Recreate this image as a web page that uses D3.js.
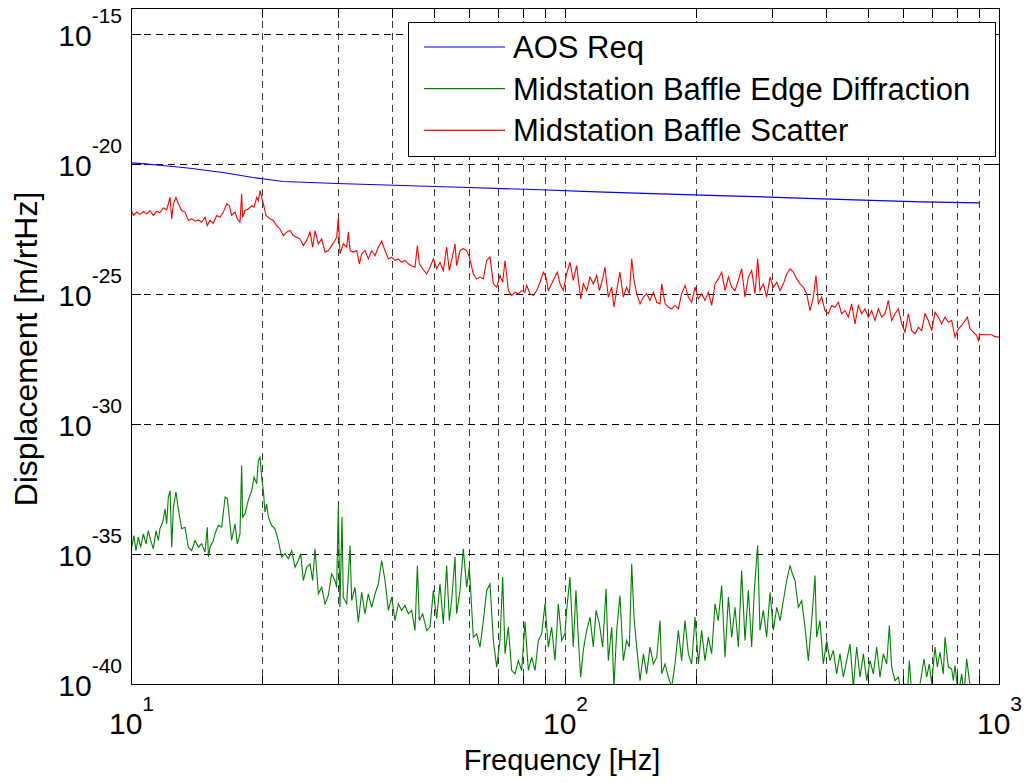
<!DOCTYPE html>
<html>
<head>
<meta charset="utf-8">
<script src="https://cdn.jsdelivr.net/npm/d3@7"></script>
<style>
  html, body { margin: 0; padding: 0; background: #fff; }
  svg { display: block; font-family: "Liberation Sans", Arial, Helvetica, sans-serif; }
</style>
</head>
<body>
<svg id="chart" width="1026" height="783"></svg>
<script>
// Displacement noise spectra, log10 of amplitude in m/rtHz versus frequency in Hz.

// AOS requirement curve
const aosFreq = [10, 10.74, 11.76, 12.80, 13.79, 14.93, 16.25, 17.59, 19.05, 20.63, 22.34,
  29.75, 42.02, 59.62, 84.19, 118.2, 165.1, 235.5, 330.8, 464.6, 659.3, 900];
const aosLog = [-19.935, -19.973, -20.038, -20.096, -20.154, -20.231, -20.308, -20.404, -20.5, -20.577, -20.654,
  -20.731, -20.808, -20.885, -20.962, -21.05, -21.127, -21.204, -21.281, -21.358, -21.435, -21.473];

// Midstation baffle scatter
const scatterFreq = [
  10.0, 10.10, 10.28, 10.46, 10.65, 10.84, 11.03, 11.23, 11.43, 11.63,
  11.84, 12.05, 12.16, 12.27, 12.38, 12.49, 12.66, 12.82, 13.05, 13.28,
  13.52, 13.76, 14.01, 14.26, 14.51, 14.77, 14.95, 15.17, 15.44, 15.71,
  15.99, 16.28, 16.57, 16.80, 17.01, 17.32, 17.53, 17.78, 17.94, 18.03,
  18.26, 18.58, 18.92, 19.16, 19.43, 19.60, 19.78, 19.95, 20.13, 20.41,
  20.85, 21.22, 21.60, 21.98, 22.38, 22.78, 23.19, 23.60, 24.02, 24.45,
  24.88, 25.33, 25.78, 26.15, 26.48, 26.95, 27.43, 27.92, 28.41, 28.92,
  29.43, 29.70, 29.96, 30.22, 30.76, 31.32, 31.60, 31.88, 32.45, 33.03,
  33.50, 33.91, 34.51, 35.13, 35.76, 36.40, 37.05, 37.71, 38.38, 39.07,
  39.77, 40.47, 41.20, 41.93, 42.68, 43.45, 44.21, 45.00, 45.57, 46.05,
  46.88, 47.88, 48.74, 49.61, 50.49, 51.38, 52.30, 53.23, 53.99, 54.66,
  55.64, 56.13, 57.13, 58.15, 59.19, 60.04, 61.32, 62.42, 63.53, 64.67,
  65.82, 66.99, 68.19, 69.41, 70.65, 71.66, 72.55, 73.85, 75.15, 76.49,
  77.86, 79.25, 80.67, 81.38, 82.84, 84.32, 85.83, 87.35, 88.91, 90.16,
  91.28, 92.92, 94.58, 95.76, 97.12, 98.85, 100.6, 102.4, 104.2, 106.1,
  108.4, 109.9, 111.9, 113.9, 115.9, 118.0, 119.7, 121.8, 123.3, 125.5,
  127.8, 129.3, 131.2, 133.5, 135.9, 138.3, 140.3, 142.1, 143.8, 145.9,
  148.5, 151.2, 153.8, 156.6, 159.4, 162.3, 165.1, 166.6, 169.6, 172.6,
  175.6, 178.8, 182.0, 185.2, 188.5, 191.9, 195.3, 198.8, 202.4, 205.9,
  209.6, 213.4, 217.2, 221.1, 224.9, 229.0, 233.1, 237.3, 241.5, 245.8,
  250.2, 254.6, 259.2, 263.8, 268.5, 273.3, 277.2, 280.6, 285.7, 290.7,
  296.0, 301.3, 306.7, 312.2, 317.7, 323.4, 329.2, 335.0, 341.0, 347.0,
  353.2, 359.5, 365.9, 372.5, 377.7, 382.4, 389.3, 396.2, 403.3, 410.5,
  417.8, 425.3, 432.8, 440.6, 448.4, 456.4, 464.6, 472.8, 481.3, 489.9,
  498.6, 507.5, 516.6, 525.8, 535.2, 544.8, 554.4, 564.4, 574.4, 584.7,
  595.2, 605.7, 616.6, 627.6, 638.8, 650.2, 661.7, 673.6, 685.5, 697.8,
  710.3, 722.8, 735.8, 748.9, 762.3, 775.9, 789.6, 803.8, 818.1, 832.8,
  843.2, 855.1, 870.4, 886.0, 893.8, 900, 960, 976, 1000];
const scatterLog = [
  -21.77, -21.96, -21.83, -21.92, -21.81, -21.90, -21.77, -21.96, -21.80, -21.85,
  -21.67, -21.74, -21.51, -21.26, -22.09, -21.51, -21.26, -21.51, -21.77, -21.83,
  -22.15, -22.09, -22.18, -22.13, -22.22, -22.03, -22.35, -22.15, -22.26, -21.96,
  -22.03, -21.83, -21.51, -21.58, -21.96, -21.83, -22.09, -22.22, -21.13, -22.03,
  -21.77, -21.71, -21.58, -21.64, -21.26, -21.39, -21.00, -21.26, -21.51, -21.96,
  -22.09, -22.15, -22.35, -22.48, -22.73, -22.60, -22.54, -22.73, -22.80, -22.86,
  -23.12, -22.92, -22.60, -23.18, -22.54, -23.05, -22.86, -23.37, -23.31, -23.12,
  -22.92, -22.80, -22.03, -23.44, -23.05, -23.18, -22.60, -23.31, -23.37, -23.31,
  -23.82, -23.44, -23.31, -23.63, -23.31, -23.50, -23.18, -22.95, -23.31, -23.63,
  -23.56, -23.69, -23.63, -23.76, -23.69, -23.82, -23.89, -23.95, -23.12, -23.82,
  -24.01, -24.21, -23.95, -23.63, -24.01, -23.76, -24.08, -23.18, -24.08, -23.69,
  -23.05, -23.89, -23.31, -23.24, -23.31, -23.56, -24.21, -24.40, -24.33, -24.40,
  -23.69, -23.56, -24.59, -24.72, -24.27, -24.53, -23.69, -24.85, -25.04, -24.91,
  -24.97, -24.85, -24.91, -24.65, -24.97, -25.04, -24.85, -24.53, -24.14, -24.33,
  -24.85, -24.59, -24.33, -24.14, -24.59, -24.85, -24.21, -23.76, -24.46, -23.89,
  -25.17, -24.59, -24.85, -24.33, -24.59, -24.27, -24.85, -24.40, -23.95, -25.10,
  -24.72, -25.49, -24.85, -24.14, -25.10, -24.72, -24.97, -23.63, -24.46, -24.97,
  -25.36, -25.10, -24.97, -25.23, -24.91, -25.30, -25.36, -24.59, -25.36, -25.49,
  -25.55, -25.42, -25.55, -24.97, -24.65, -25.10, -25.30, -24.72, -25.17, -24.97,
  -25.23, -24.91, -25.42, -24.59, -24.40, -24.14, -24.85, -24.33, -24.72, -24.85,
  -24.46, -24.01, -25.10, -24.33, -24.08, -24.97, -23.63, -24.85, -24.59, -25.10,
  -24.33, -24.72, -24.53, -24.85, -24.59, -24.21, -24.01, -24.14, -24.40, -24.59,
  -24.72, -24.97, -25.62, -25.10, -24.27, -25.36, -25.10, -25.62, -25.74, -25.42,
  -25.49, -25.30, -25.74, -25.62, -25.87, -25.36, -26.13, -25.42, -25.74, -25.55,
  -25.87, -25.62, -26.00, -25.55, -25.87, -25.74, -25.23, -26.00, -25.74, -25.55,
  -26.13, -26.45, -25.74, -26.39, -26.51, -26.26, -26.39, -25.74, -26.00, -26.39,
  -25.68, -25.87, -26.13, -25.87, -26.06, -26.00, -26.64, -26.32, -26.19, -26.00,
  -25.87, -26.32, -26.45, -26.58, -26.77, -26.54, -26.55, -26.62, -26.64];

// Midstation baffle edge diffraction
const diffrFreq = [
  10.0, 10.01, 10.13, 10.24, 10.37, 10.50, 10.65, 10.80, 10.93, 11.07,
  11.23, 11.39, 11.53, 11.63, 11.80, 11.95, 12.05, 12.16, 12.27, 12.38,
  12.49, 12.66, 12.82, 13.05, 13.28, 13.52, 13.76, 14.01, 14.26, 14.51,
  14.77, 14.95, 15.04, 15.17, 15.44, 15.57, 15.85, 16.14, 16.43, 16.63,
  16.80, 17.01, 17.32, 17.53, 17.78, 17.94, 18.03, 18.26, 18.58, 18.92,
  19.16, 19.43, 19.60, 19.78, 19.95, 20.13, 20.30, 20.48, 20.67, 21.03,
  21.41, 21.79, 22.18, 22.58, 22.98, 23.39, 23.81, 24.23, 24.54, 24.88,
  25.33, 25.78, 26.15, 26.48, 26.95, 27.43, 27.92, 28.41, 28.92, 29.43,
  29.70, 29.96, 30.22, 30.55, 30.76, 31.32, 31.88, 32.16, 32.73, 33.32,
  33.91, 34.51, 35.13, 35.76, 36.40, 37.05, 37.71, 38.38, 39.07, 39.77,
  40.47, 41.20, 41.93, 42.68, 43.45, 44.21, 45.00, 45.57, 46.05, 46.88,
  47.88, 48.74, 49.61, 50.49, 51.38, 52.30, 53.23, 53.99, 54.66, 55.64,
  56.13, 57.13, 58.15, 59.19, 60.04, 61.32, 62.42, 63.53, 64.67, 65.82,
  66.99, 68.19, 69.41, 70.65, 71.66, 72.55, 73.85, 75.15, 76.49, 77.86,
  79.25, 80.67, 82.11, 83.57, 85.06, 86.58, 88.13, 89.69, 91.28, 92.92,
  94.58, 96.27, 98.00, 99.72, 100.6, 102.4, 104.2, 105.7, 107.1, 108.4,
  109.9, 111.9, 113.9, 115.9, 117.6, 119.7, 121.8, 124.0, 125.5, 127.8,
  129.3, 131.2, 133.5, 135.9, 138.3, 140.3, 142.1, 143.8, 145.9, 148.5,
  151.2, 153.8, 156.6, 159.4, 162.3, 165.1, 166.6, 169.6, 172.6, 175.6,
  178.8, 182.0, 185.2, 188.5, 191.9, 195.3, 198.8, 202.4, 205.9, 209.6,
  213.4, 217.2, 221.1, 224.9, 229.0, 233.1, 237.3, 241.5, 245.8, 250.2,
  254.6, 259.2, 263.8, 268.5, 272.3, 277.2, 280.6, 285.7, 290.7, 296.0,
  301.3, 306.7, 312.2, 317.7, 323.4, 329.2, 333.2, 337.9, 343.9, 350.1,
  356.3, 362.7, 369.2, 375.8, 379.0, 385.8, 392.7, 399.7, 406.8, 414.1,
  421.5, 429.0, 436.7, 444.5, 452.4, 460.5, 468.7, 477.1, 485.6, 494.3,
  503.1, 512.1, 521.2, 530.5, 540.0, 549.6, 557.5, 564.4, 574.4, 584.7,
  595.2, 605.7, 613.0, 619.8, 627.6, 638.8, 650.2, 661.7, 669.9, 679.5,
  689.1, 697.8, 710.3, 719.1, 729.3, 742.3, 748.9, 762.3, 775.9, 782.9,
  789.6, 803.8, 818.1, 828.4, 840.2, 852.2, 862.9, 900, 1000];
const diffrLog = [
  -34.08, -34.72, -34.27, -34.85, -34.33, -34.72, -34.21, -34.59, -34.08, -34.46,
  -34.78, -34.08, -34.46, -34.01, -33.76, -33.24, -33.82, -32.79, -32.54, -34.72,
  -33.18, -32.60, -33.24, -34.01, -33.95, -34.72, -34.85, -34.46, -34.72, -34.59,
  -34.91, -33.95, -35.10, -34.72, -34.46, -34.21, -33.88, -33.95, -32.79, -32.86,
  -33.56, -34.46, -33.82, -34.59, -34.21, -31.58, -33.56, -33.44, -32.92, -32.54,
  -32.03, -32.28, -31.38, -31.26, -32.03, -32.54, -33.37, -33.05, -33.56, -33.88,
  -34.01, -34.46, -35.10, -34.97, -35.17, -34.85, -35.49, -35.23, -34.97, -36.00,
  -35.49, -35.36, -36.00, -34.78, -36.51, -36.26, -36.90, -36.58, -35.74, -36.00,
  -36.26, -33.12, -37.03, -33.56, -36.64, -36.90, -34.65, -36.77, -36.26, -37.60,
  -36.45, -37.28, -36.51, -37.03, -36.51, -36.13, -35.23, -36.00, -37.15, -36.64,
  -37.54, -36.90, -37.15, -36.96, -37.28, -37.15, -37.92, -35.42, -37.54, -37.28,
  -37.92, -37.79, -36.38, -37.47, -36.13, -37.67, -35.42, -37.54, -36.77, -35.10,
  -37.28, -36.38, -34.78, -36.26, -35.49, -38.18, -38.05, -38.56, -37.54, -36.38,
  -36.13, -38.31, -39.33, -38.31, -35.87, -38.82, -37.79, -39.46, -39.59, -39.08,
  -39.46, -37.60, -39.46, -38.95, -39.46, -38.31, -38.05, -36.90, -38.56, -37.79,
  -39.08, -36.90, -38.31, -38.05, -37.15, -35.87, -38.56, -36.38, -38.31, -39.72,
  -38.69, -37.92, -37.41, -38.56, -37.15, -37.67, -38.56, -36.32, -39.08, -37.80,
  -40.10, -37.92, -36.58, -39.08, -38.31, -38.56, -35.36, -37.41, -38.56, -39.85,
  -38.82, -39.59, -38.56, -39.21, -38.95, -37.54, -39.59, -39.21, -39.72, -40.10,
  -39.21, -37.92, -39.08, -37.54, -38.82, -39.21, -37.41, -39.21, -37.92, -39.08,
  -38.18, -38.82, -36.90, -37.54, -36.19, -38.95, -36.64, -38.18, -37.03, -38.56,
  -35.62, -38.31, -36.38, -38.56, -36.38, -34.65, -37.92, -37.15, -38.18, -36.45,
  -37.92, -37.03, -37.54, -36.77, -36.00, -35.42, -35.74, -36.00, -37.03, -36.77,
  -37.80, -39.08, -37.54, -35.81, -38.18, -37.54, -39.21, -38.31, -39.08, -38.69,
  -39.59, -38.82, -39.72, -39.08, -38.44, -40.10, -38.56, -39.72, -38.82, -39.85,
  -39.08, -39.59, -38.56, -39.72, -38.82, -39.21, -37.73, -39.33, -39.85, -39.72,
  -40.40, -39.97, -40.40, -39.08, -40.40, -40.40, -40.40, -39.59, -39.01, -39.72,
  -39.21, -39.97, -38.56, -39.33, -38.76, -39.59, -38.18, -39.33, -39.40, -39.85,
  -39.27, -40.40, -39.59, -40.40, -39.01, -39.85, -40.40, -40.70, -41.00];

// Axes and legend
const xDomain = [10, 1000];
const yDomain = [1e-40, 1e-14];
const xMajorTicks = [10, 100, 1000];
const xMinorTicks = [20, 30, 40, 50, 60, 70, 80, 90, 200, 300, 400, 500, 600, 700, 800, 900];
const yTickExponents = [-40, -35, -30, -25, -20, -15];
const seriesNames = ["AOS Req", "Midstation Baffle Edge Diffraction", "Midstation Baffle Scatter"];
const seriesColors = ["#0000ff", "#008000", "#ff0000"];

const plot = { left: 131.5, right: 999.5, top: 8.5, bottom: 684.5 };

const svg = d3.select("#chart");
const x = d3.scaleLog().domain(xDomain).range([plot.left, plot.right]);
const y = d3.scaleLog().domain(yDomain).range([plot.bottom, plot.top]);
const px = v => Math.round(x(v) - 0.5) + 0.5;
const py = v => Math.round(y(v) - 0.5) + 0.5;

svg.append("rect").attr("width", 1026).attr("height", 783).attr("fill", "#fff");

svg.append("clipPath").attr("id", "plotClip")
  .append("rect")
  .attr("x", plot.left).attr("y", plot.top)
  .attr("width", plot.right - plot.left).attr("height", plot.bottom - plot.top);

// dashed grid
const grid = svg.append("g")
  .attr("stroke", "#000").attr("stroke-width", 1)
  .attr("stroke-dasharray", "7,5").attr("shape-rendering", "crispEdges");
grid.selectAll("line.gx")
  .data(xMinorTicks.concat([100]))
  .join("line").attr("class", "gx")
  .attr("x1", d => px(d)).attr("x2", d => px(d))
  .attr("y1", plot.top).attr("y2", plot.bottom)
  .attr("stroke", "#3a3a3a");
grid.selectAll("line.gy")
  .data(yTickExponents.slice(1).map(e => Math.pow(10, e)))
  .join("line").attr("class", "gy")
  .attr("x1", plot.left).attr("x2", plot.right)
  .attr("y1", d => py(d)).attr("y2", d => py(d));

// curves
const line = d3.line().x(d => x(d.f)).y(d => y(d.v));
const toPoints = (freq, lg) => freq.map((f, i) => ({ f, v: Math.pow(10, lg[i]) }));
const curves = [
  toPoints(aosFreq, aosLog),
  toPoints(diffrFreq, diffrLog),
  toPoints(scatterFreq, scatterLog)
];
const curveLayer = svg.append("g").attr("clip-path", "url(#plotClip)");
curveLayer.append("path").datum(curves[1])
  .attr("d", line).attr("fill", "none").attr("stroke", seriesColors[1]).attr("stroke-width", 1.1);
curveLayer.append("path").datum(curves[2])
  .attr("d", line).attr("fill", "none").attr("stroke", seriesColors[2]).attr("stroke-width", 1.1);
curveLayer.append("path").datum(curves[0])
  .attr("d", line).attr("fill", "none").attr("stroke", seriesColors[0]).attr("stroke-width", 1.2);

// axis frame and ticks
const tickLen = 9;
const frame = svg.append("g").attr("stroke", "#000").attr("shape-rendering", "crispEdges");
frame.append("rect")
  .attr("x", plot.left).attr("y", plot.top)
  .attr("width", plot.right - plot.left).attr("height", plot.bottom - plot.top)
  .attr("fill", "none").attr("stroke-width", 1.3);
const xTickAll = xMajorTicks.concat(xMinorTicks);
frame.selectAll("line.tb").data(xTickAll).join("line").attr("class", "tb")
  .attr("x1", d => px(d)).attr("x2", d => px(d))
  .attr("y1", plot.bottom).attr("y2", plot.bottom - tickLen);
frame.selectAll("line.tt").data(xTickAll).join("line").attr("class", "tt")
  .attr("x1", d => px(d)).attr("x2", d => px(d))
  .attr("y1", plot.top).attr("y2", plot.top + tickLen);
const yTickVals = yTickExponents.map(e => Math.pow(10, e));
frame.selectAll("line.tl").data(yTickVals).join("line").attr("class", "tl")
  .attr("x1", plot.left).attr("x2", plot.left + tickLen)
  .attr("y1", d => py(d)).attr("y2", d => py(d));
frame.selectAll("line.tr").data(yTickVals).join("line").attr("class", "tr")
  .attr("x1", plot.right).attr("x2", plot.right - tickLen)
  .attr("y1", d => py(d)).attr("y2", d => py(d));

// tick labels: powers of ten with superscript exponents
const xl = svg.append("g").attr("fill", "#000");
xMajorTicks.forEach(v => {
  const t = xl.append("text").attr("x", x(v)).attr("y", 734).attr("text-anchor", "middle");
  t.append("tspan").attr("font-size", 30).text("10");
  t.append("tspan").attr("font-size", 21).attr("dy", -23).text(String(Math.round(Math.log10(v))));
});
yTickExponents.forEach(e => {
  const t = xl.append("text").attr("x", 122).attr("y", y(Math.pow(10, e)) + 11).attr("text-anchor", "end");
  t.append("tspan").attr("font-size", 30).text("10");
  t.append("tspan").attr("font-size", 21).attr("dy", -23).text("-" + Math.abs(e));
});

// axis titles
svg.append("text").attr("x", 562).attr("y", 770).attr("text-anchor", "middle")
  .attr("font-size", 29).text("Frequency [Hz]");
svg.append("text").attr("transform", "translate(37,349) rotate(-90)").attr("text-anchor", "middle")
  .attr("font-size", 32).text("Displacement [m/rtHz]");

// legend
const legend = svg.append("g");
legend.append("rect")
  .attr("x", 408.5).attr("y", 22.5).attr("width", 587).attr("height", 134)
  .attr("fill", "#fff").attr("stroke", "#000").attr("stroke-width", 1)
  .attr("shape-rendering", "crispEdges");
seriesNames.forEach((name, i) => {
  const cy = 47 + i * 41.7;
  legend.append("line")
    .attr("x1", 424).attr("x2", 505).attr("y1", cy).attr("y2", cy)
    .attr("stroke", seriesColors[i]).attr("stroke-width", 1.2);
  legend.append("text").attr("x", 513).attr("y", cy + 11)
    .attr("font-size", 31).text(name);
});
</script>
</body>
</html>
